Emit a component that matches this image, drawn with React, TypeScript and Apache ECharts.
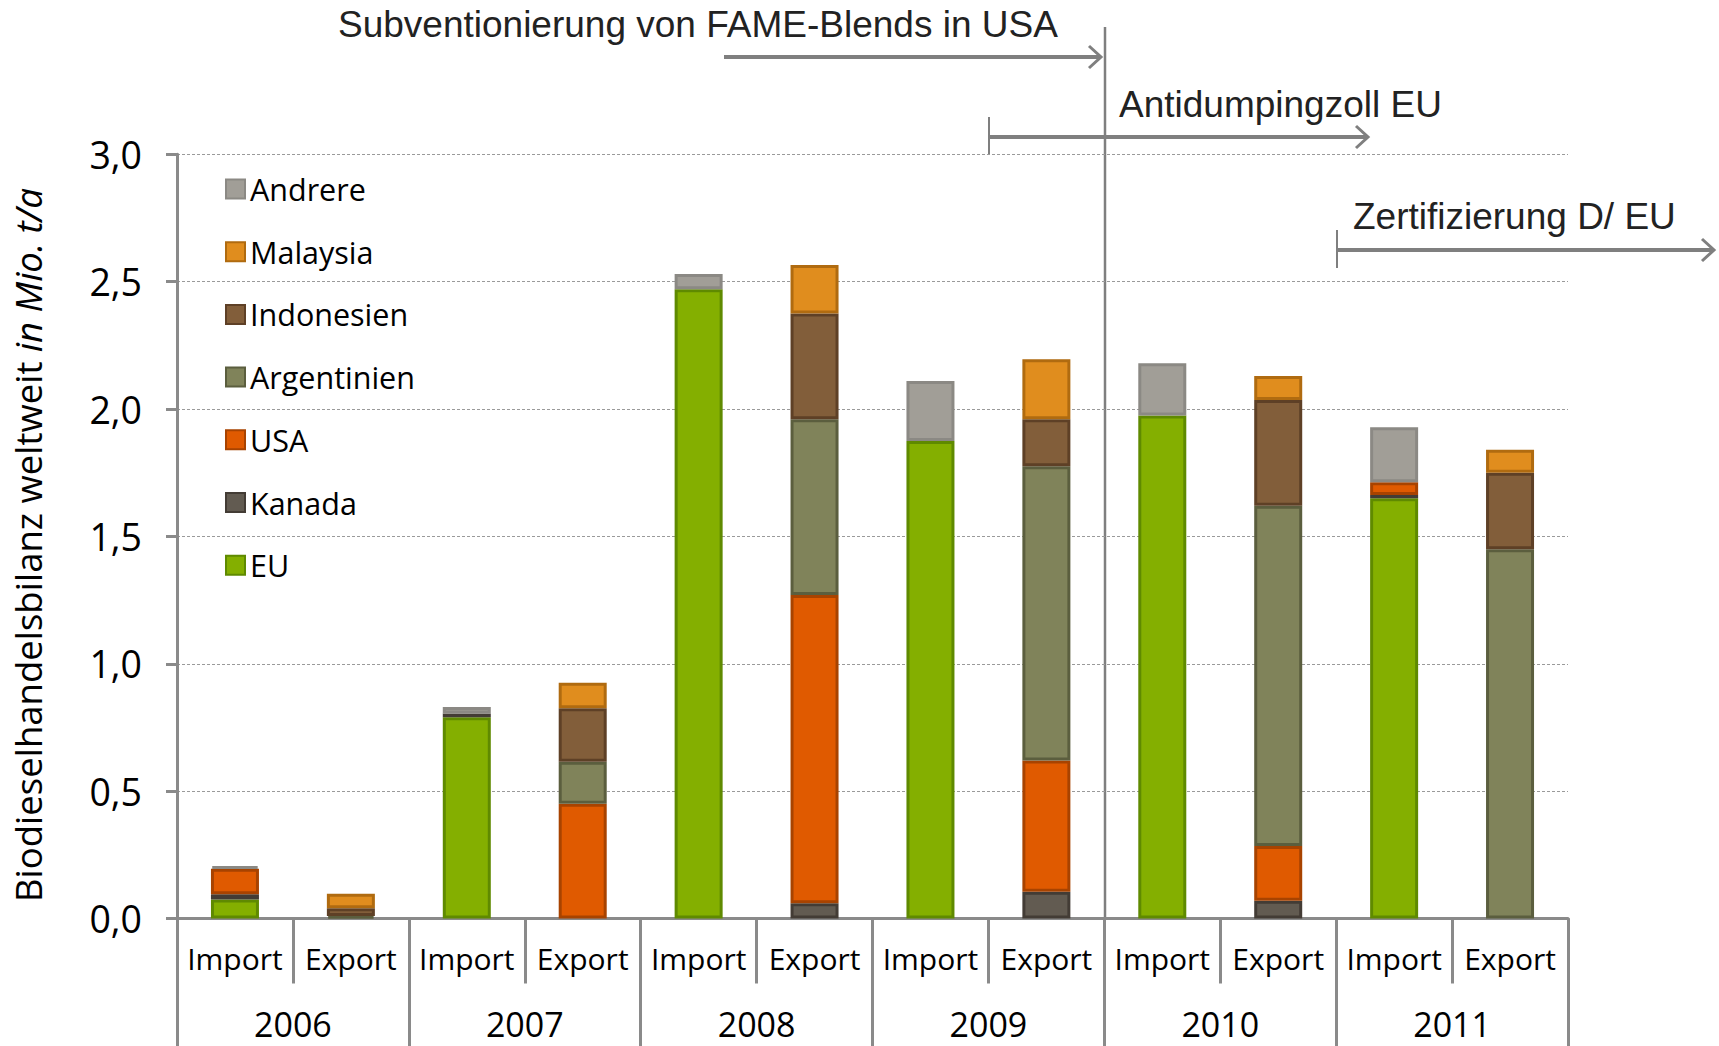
import React, { useEffect, useRef } from "react";
import * as echarts from "echarts";

const categories = ["Import", "Export", "Import", "Export", "Import", "Export", "Import", "Export", "Import", "Export", "Import", "Export"];
const years = ["2006", "2007", "2008", "2009", "2010", "2011"];
const yTicks = [0, 0.5, 1, 1.5, 2, 2.5, 3];

const euValues = [0.075, null, 0.79, null, 2.47, null, 1.875, null, 1.975, null, 1.65, null];
const kanadaValues = [0.02, null, 0.015, null, null, 0.06, null, 0.105, null, 0.07, 0.013, null];
const usaValues = [0.1, null, null, 0.45, null, 1.21, null, 0.515, null, 0.215, 0.05, null];
const argentinienValues = [null, 0.01, null, 0.165, null, 0.69, null, 1.155, null, 1.335, null, 1.45];
const indonesienValues = [null, 0.03, null, 0.21, null, 0.415, null, 0.185, null, 0.415, null, 0.3];
const malaysiaValues = [null, 0.057, null, 0.1, null, 0.19, null, 0.235, null, 0.095, null, 0.09];
const andrereValues = [0.01, null, 0.025, null, 0.06, null, 0.235, null, 0.205, null, 0.215, null];

const seriesDefs = [
  { name: "EU", data: euValues, color: "#84AF00", border: "#5F8A00" },
  { name: "Kanada", data: kanadaValues, color: "#625B51", border: "#433C35" },
  { name: "USA", data: usaValues, color: "#E05A00", border: "#A84300" },
  { name: "Argentinien", data: argentinienValues, color: "#80835A", border: "#5B5E3E" },
  { name: "Indonesien", data: indonesienValues, color: "#825E3A", border: "#5E4026" },
  { name: "Malaysia", data: malaysiaValues, color: "#E08D1E", border: "#B06B10" },
  { name: "Andrere", data: andrereValues, color: "#A19E97", border: "#8B8984" },
];
const legendOrder = ["Andrere", "Malaysia", "Indonesien", "Argentinien", "USA", "Kanada", "EU"];

const FONT = "Open Sans";
const ANNOT_FONT = "Liberation Sans";
const AXIS_GRAY = "#8a8a8a";
const ARROW_GRAY = "#7f7f7f";

function arrow(x1: number, x2: number, y: number, startTick: boolean) {
  const els: any[] = [
    { type: "line", shape: { x1, y1: y, x2: x2 - 2, y2: y }, style: { stroke: ARROW_GRAY, lineWidth: 4 } },
    { type: "polyline", shape: { points: [[x2 - 12, y - 11], [x2, y], [x2 - 12, y + 11]] }, style: { stroke: ARROW_GRAY, lineWidth: 3, fill: null } },
  ];
  if (startTick) {
    els.push({ type: "line", shape: { x1, y1: y - 20, x2: x1, y2: y + 18 }, style: { stroke: ARROW_GRAY, lineWidth: 2 } });
  }
  return els;
}

export default function App() {
  const ref = useRef<HTMLDivElement>(null);
  useEffect(() => {
    if (!ref.current) return;
    const chart = echarts.init(ref.current, null, { renderer: "svg" });
    const option: any = {
      animation: false,
      backgroundColor: "#ffffff",
      grid: { left: 177, right: 151, top: 154.3, bottom: 127.5, containLabel: false, outerBoundsMode: "none" },
      legend: {
        orient: "vertical",
        left: 220,
        top: 168.5,
        data: legendOrder,
        icon: "rect",
        itemWidth: 19,
        itemHeight: 19,
        itemGap: 31.7,
        selectedMode: false,
        textStyle: { fontFamily: FONT, fontSize: 30.5, color: "#000", lineHeight: 30, padding: [0, 0, 0, 0] },
      },
      xAxis: [
        {
          type: "category",
          data: categories,
          position: "bottom",
          axisLine: { show: true, lineStyle: { color: AXIS_GRAY, width: 3 } },
          axisTick: { show: true, interval: 0, length: 65, lineStyle: { color: AXIS_GRAY, width: 3 } },
          axisLabel: { interval: 0, margin: 24.5, fontFamily: FONT, fontSize: 30, color: "#000", lineHeight: 30 },
          splitLine: { show: false },
        },
        {
          type: "category",
          data: years,
          position: "bottom",
          axisLine: { show: false },
          axisTick: { show: true, interval: 0, length: 130, lineStyle: { color: AXIS_GRAY, width: 3 } },
          axisLabel: { interval: 0, margin: 88, fontFamily: FONT, fontSize: 34, color: "#000", lineHeight: 34 },
          splitLine: { show: false },
        },
      ],
      yAxis: {
        type: "value",
        min: yTicks[0],
        max: yTicks[yTicks.length - 1],
        interval: 0.5,
        axisLine: { show: true, lineStyle: { color: AXIS_GRAY, width: 3 } },
        axisTick: { show: true, length: 11, lineStyle: { color: AXIS_GRAY, width: 3 } },
        axisLabel: {
          margin: 35,
          fontFamily: FONT,
          fontSize: 37.5,
          color: "#000",
          formatter: (v: number) => v.toFixed(1).replace(".", ","),
        },
        splitLine: { show: true, lineStyle: { color: "#9a9a9a", width: 1, type: [3, 2] } },
      },
      series: seriesDefs.map((s) => ({
        name: s.name,
        type: "bar",
        stack: "total",
        xAxisIndex: 0,
        barWidth: 48,
        data: s.data,
        itemStyle: { color: s.color, borderColor: s.border, borderWidth: 3 },
        emphasis: { disabled: true },
      })),
      graphic: [
        {
          type: "text",
          x: 28,
          y: 545,
          rotation: Math.PI / 2,
          style: {
            text: "{a|Biodieselhandelsbilanz weltweit }{b|in Mio. t/a}",
            align: "center",
            verticalAlign: "middle",
            rich: {
              a: { fontFamily: FONT, fontSize: 36.5, fill: "#000" },
              b: { fontFamily: FONT, fontSize: 36.5, fontStyle: "italic", fill: "#000" },
            },
          },
        },
        { type: "line", shape: { x1: 1105, y1: 27, x2: 1105, y2: 918 }, style: { stroke: ARROW_GRAY, lineWidth: 2.5 } },
        {
          type: "text",
          x: 338,
          y: 24,
          style: { text: "Subventionierung von FAME-Blends in USA", fontFamily: ANNOT_FONT, fontSize: 37, fill: "#222", align: "left", verticalAlign: "middle" },
        },
        {
          type: "text",
          x: 1119,
          y: 104,
          style: { text: "Antidumpingzoll EU", fontFamily: ANNOT_FONT, fontSize: 37, fill: "#222", align: "left", verticalAlign: "middle" },
        },
        {
          type: "text",
          x: 1353,
          y: 216,
          style: { text: "Zertifizierung D/ EU", fontFamily: ANNOT_FONT, fontSize: 37, fill: "#222", align: "left", verticalAlign: "middle" },
        },
        ...arrow(724, 1101, 57, false),
        ...arrow(989, 1368, 137, true),
        ...arrow(1337, 1714, 250, true),
      ],
    };
    chart.setOption(option);
    return () => chart.dispose();
  }, []);
  return <div ref={ref} style={{ position: "fixed", left: 0, top: 0, width: 1719, height: 1046, background: "#fff" }} />;
}
